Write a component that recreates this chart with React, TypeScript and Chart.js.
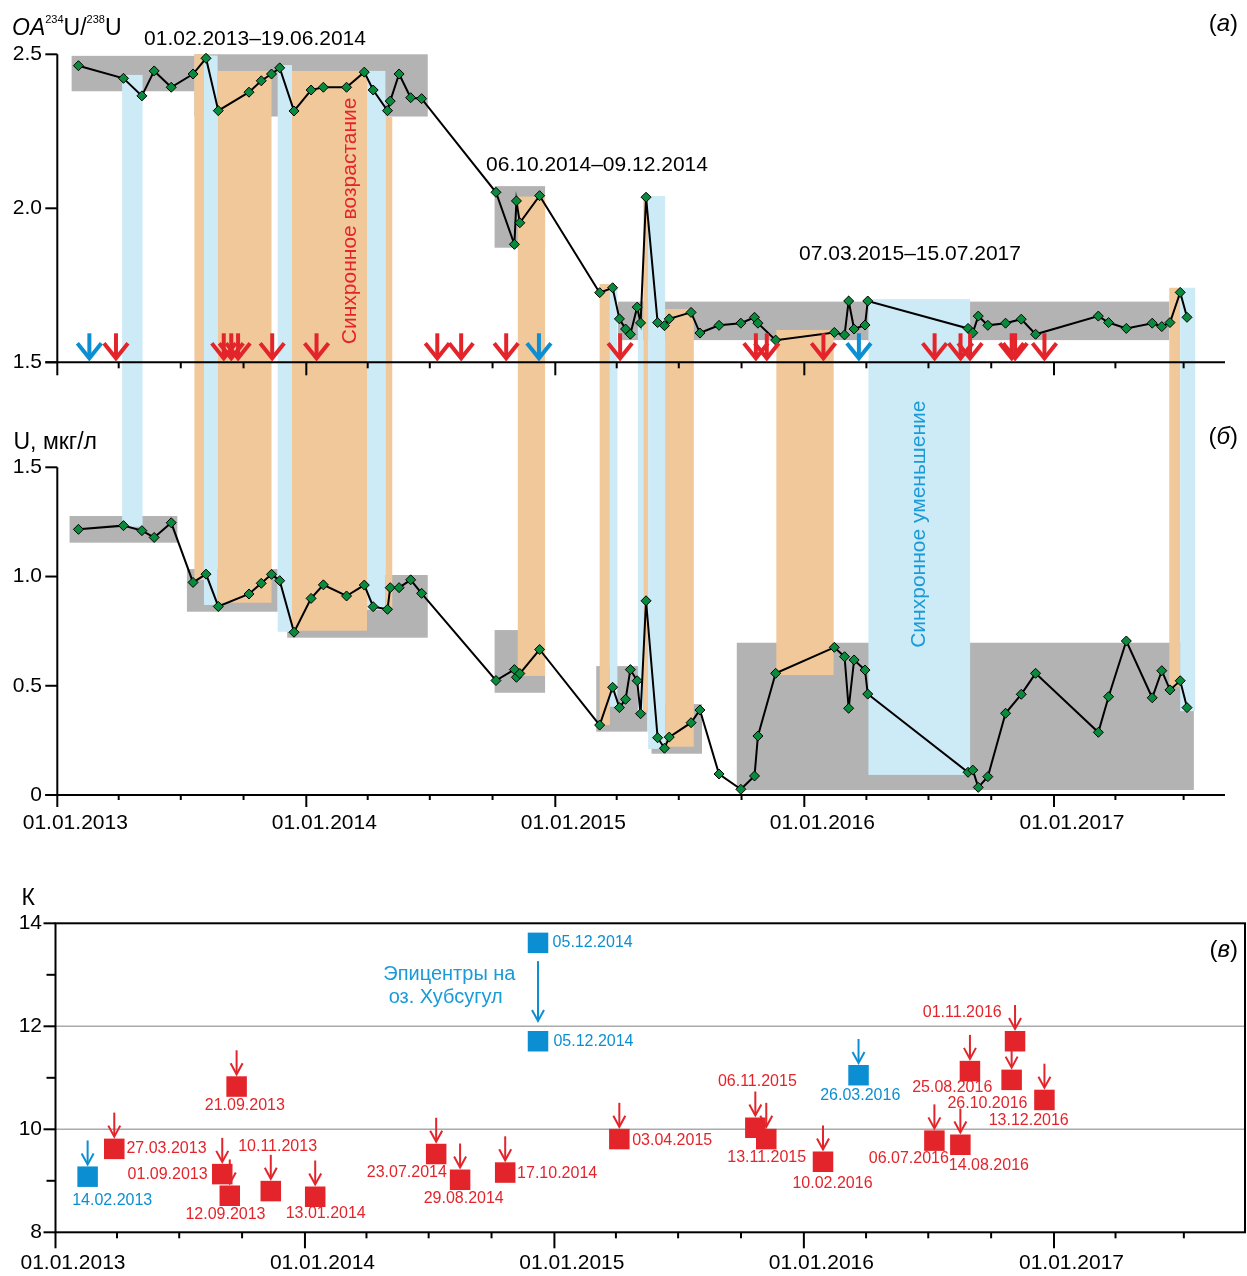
import React, { useEffect, useRef } from 'react';
import { Chart, registerables } from 'chart.js';

Chart.register(...registerables);

const FONT = '"Liberation Sans", Arial, Helvetica, sans-serif';

// ---------------- data ----------------
const sampleDates = [
  '01.02.2013', '08.04.2013', '05.05.2013', '23.05.2013', '17.06.2013', '19.07.2013', '07.08.2013', '25.08.2013',
  '09.10.2013', '27.10.2013', '11.11.2013', '23.11.2013', '14.12.2013',
  '08.01.2014', '26.01.2014', '01.03.2014', '27.03.2014', '09.04.2014', '30.04.2014', '04.05.2014', '17.05.2014',
  '03.06.2014', '19.06.2014',
  '06.10.2014', '02.11.2014', '05.11.2014', '10.11.2014', '09.12.2014',
  '07.03.2015', '26.03.2015', '05.04.2015', '14.04.2015', '21.04.2015', '01.05.2015', '06.05.2015', '14.05.2015',
  '31.05.2015', '10.06.2015', '17.06.2015', '19.07.2015', '01.08.2015', '29.08.2015', '30.09.2015', '20.10.2015',
  '25.10.2015', '20.11.2015',
  '14.02.2016', '29.02.2016', '06.03.2016', '14.03.2016', '30.03.2016', '03.04.2016', '28.08.2016', '04.09.2016',
  '12.09.2016', '26.09.2016', '22.10.2016', '14.11.2016', '05.12.2016',
  '07.03.2017', '22.03.2017', '17.04.2017', '25.05.2017', '08.06.2017', '20.06.2017', '05.07.2017', '15.07.2017',
];

const ratioA = [
  2.463, 2.422, 2.365, 2.446, 2.393, 2.436, 2.487, 2.317, 2.377, 2.414, 2.436, 2.456, 2.316,
  2.384, 2.393, 2.393, 2.442, 2.384, 2.317, 2.348, 2.436, 2.359, 2.356,
  2.052, 1.883, 2.024, 1.953, 2.041,
  1.726, 1.742, 1.641, 1.608, 1.591, 1.679, 1.628, 2.036, 1.629, 1.619, 1.641, 1.662, 1.595, 1.620, 1.627,
  1.646, 1.627, 1.572,
  1.597, 1.589, 1.699, 1.608, 1.621, 1.699, 1.610, 1.596, 1.650, 1.620, 1.627, 1.640, 1.591,
  1.650, 1.629, 1.610, 1.627, 1.616, 1.629, 1.727, 1.646,
];

const uB = [
  1.216, 1.233, 1.210, 1.179, 1.246, 0.973, 1.011, 0.863, 0.920, 0.969, 1.010, 0.981, 0.745,
  0.900, 0.962, 0.911, 0.961, 0.862, 0.850, 0.949, 0.949, 0.985, 0.923,
  0.524, 0.574, 0.539, 0.556, 0.666,
  0.320, 0.493, 0.400, 0.438, 0.574, 0.523, 0.372, 0.889, 0.262, 0.214, 0.265, 0.331, 0.389, 0.096, 0.026,
  0.087, 0.270, 0.557,
  0.676, 0.633, 0.397, 0.618, 0.572, 0.462, 0.104, 0.114, 0.035, 0.084, 0.374, 0.461, 0.557,
  0.287, 0.450, 0.705, 0.445, 0.569, 0.481, 0.523, 0.400,
];

// synchronous bands: start, end, kind (o = growth, b = decrease), top value (panel a), bottom value (panel b)
const bandsAB: [string, string, string, number, number][] = [
  ['06.04.2013', '06.05.2013', 'b', 2.433, 1.228],
  ['21.07.2013', '04.08.2013', 'o', 2.5, 0.984],
  ['04.08.2013', '24.08.2013', 'b', 2.496, 0.870],
  ['24.08.2013', '11.11.2013', 'o', 2.446, 0.880],
  ['20.11.2013', '11.12.2013', 'b', 2.465, 0.747],
  ['11.12.2013', '31.03.2014', 'o', 2.446, 0.752],
  ['31.03.2014', '27.04.2014', 'b', 2.446, 0.847],
  ['27.04.2014', '07.05.2014', 'o', 2.297, 0.86],
  ['07.11.2014', '17.12.2014', 'o', 2.038, 0.545],
  ['07.03.2015', '22.03.2015', 'o', 1.754, 0.320],
  ['22.03.2015', '02.04.2015', 'b', 1.74, 0.404],
  ['02.05.2015', '10.05.2015', 'b', 1.64, 0.381],
  ['10.05.2015', '17.05.2015', 'o', 2.038, 0.381],
  ['17.05.2015', '11.06.2015', 'b', 2.040, 0.211],
  ['11.06.2015', '23.07.2015', 'o', 1.673, 0.221],
  ['21.11.2015', '13.02.2016', 'o', 1.605, 0.549],
  ['04.04.2016', '31.08.2016', 'b', 1.705, 0.092],
  ['19.06.2017', '05.07.2017', 'o', 1.742, 0.496],
  ['05.07.2017', '27.07.2017', 'b', 1.742, 0.384],
];

// variability ranges: start, end, low, high
const grayA: [string, string, number, number][] = [
  ['22.01.2013', '21.07.2013', 2.38, 2.495],
  ['21.07.2013', '28.06.2014', 2.298, 2.5],
  ['04.10.2014', '17.12.2014', 1.872, 2.072],
  ['03.04.2015', '19.06.2017', 1.572, 1.697],
];
const grayB: [string, string, number, number][] = [
  ['19.01.2013', '26.06.2013', 1.155, 1.277],
  ['10.07.2013', '20.11.2013', 0.839, 1.034],
  ['04.12.2013', '28.06.2014', 0.720, 1.007],
  ['04.10.2014', '17.12.2014', 0.468, 0.755],
  ['02.03.2015', '16.05.2015', 0.290, 0.590],
  ['22.05.2015', '04.08.2015', 0.189, 0.416],
  ['24.09.2015', '25.07.2017', 0.023, 0.697],
];

// earthquakes (panel в)
const eventLabels = [
  '14.02.2013', '27.03.2013', '01.09.2013', '12.09.2013', '21.09.2013', '10.11.2013', '13.01.2014', '23.07.2014',
  '29.08.2014', '17.10.2014', '05.12.2014', '05.12.2014', '03.04.2015', '06.11.2015', '13.11.2015', '10.02.2016',
  '26.03.2016', '06.07.2016', '14.08.2016', '25.08.2016', '26.10.2016', '01.11.2016', '13.12.2016',
];
// horizontal positions
const eventPlotDates = [
  '17.02.2013', '28.03.2013', '02.09.2013', '13.09.2013', '23.09.2013', '12.11.2013', '16.01.2014', '12.07.2014',
  '16.08.2014', '21.10.2014', '08.12.2014', '08.12.2014', '06.04.2015', '22.10.2015', '07.11.2015', '29.01.2016',
  '21.03.2016', '10.07.2016', '17.08.2016', '31.08.2016', '31.10.2016', '05.11.2016', '18.12.2016',
];
const eventK = [
  9.08, 9.62, 9.13, 8.71, 10.83, 8.80, 8.69, 9.52, 9.02, 9.16, 13.62, 11.71, 9.81, 10.03, 9.81, 9.37,
  11.05, 9.78, 9.70, 11.13, 10.96, 11.71, 10.57,
];
const eventKind = [
  'b', 'r', 'r', 'r', 'r', 'r', 'r', 'r', 'r', 'r', 'b', 'b', 'r', 'r', 'r', 'r',
  'b', 'r', 'r', 'r', 'r', 'r', 'r',
];

const tickDates = [
  '01.01.2013', '01.04.2013', '01.07.2013', '01.10.2013',
  '01.01.2014', '01.04.2014', '01.07.2014', '01.10.2014',
  '01.01.2015', '01.04.2015', '01.07.2015', '01.10.2015',
  '01.01.2016', '01.04.2016', '01.07.2016', '01.10.2016',
  '01.01.2017', '01.04.2017', '10.07.2017',
];
const yTicksA = [1.5, 2.0, 2.5];
const yTicksB = [0, 0.5, 1.0, 1.5];
const yTicksC = [8, 9, 10, 11, 12, 13, 14];
const gridC = [10, 12];
const rangeTitles = ['01.02.2013–19.06.2014', '06.10.2014–09.12.2014', '07.03.2015–15.07.2017'];

// ---------------- layout / style ----------------
const W = 1247;
const BASE = Date.UTC(2013, 0, 1);
const toDay = (s: string) => {
  const [d, m, y] = s.split('.').map(Number);
  return Math.round((Date.UTC(y, m - 1, d) - BASE) / 86400000);
};
const tickDays = tickDates.map(toDay);
const isYearTick = (i: number) => tickDates[i].startsWith('01.01');

const AB_H = 860;
const AB_LEFT = 57.3, AB_RIGHT = 1225, AB_TOP = 54.3, AB_BOTTOM = 795;
const A_Y15 = 362.3, B_Y15 = 467.3;
const PXD_AB = (1054 - 57.3) / 1461;
const XMAX_AB = (AB_RIGHT - AB_LEFT) / PXD_AB;
const YA_MIN = 2.5 - (AB_BOTTOM - AB_TOP) / (A_Y15 - AB_TOP);
const YB_MAX = (AB_BOTTOM - AB_TOP) / ((AB_BOTTOM - B_Y15) / 1.5);

const C_OFF = 860, C_H = 416;
const C_LEFT = 55.5, C_RIGHT = 1245, C_TOP = 923.3 - C_OFF, C_BOTTOM = 1232.3 - C_OFF;
const PXD_C = (1054 - 55.5) / 1461;
const XMAX_C = (C_RIGHT - C_LEFT) / PXD_C;

const GRAY = '#b3b3b3';
const ORANGE = '#f0c89a';
const LBLUE = '#cdebf7';
const GREEN = '#0a8a3c';
const RED = '#e3242b';
const BLUE = '#0b8fd2';
const TXT_BLUE = '#1a9ad6';

const labelLayout: [number, number, string][] = [
  [24.6, 24, 'center'], [12.2, 0, 'left'], [-14.6, 0.7, 'right'], [-4.3, 18.6, 'center'],
  [8.2, 19.3, 'center'], [6.8, -44.3, 'center'], [10.5, 16.6, 'center'], [10.7, 18.7, 'right'],
  [3.6, 19.3, 'center'], [11.9, 1.3, 'left'], [14.6, 0, 'left'], [15.4, 0.7, 'left'],
  [12.8, 1.7, 'left'], [2, -46, 'center'], [0.4, 18.7, 'center'], [9.5, 21.6, 'center'],
  [1.7, 20.7, 'center'], [14.5, 18.3, 'right'], [-11.5, 20.7, 'left'], [-17.7, 16.7, 'center'],
  [-24.2, 23.3, 'center'], [-52.8, -28.3, 'center'], [-15.7, 21, 'center'],
];

function line(ctx: CanvasRenderingContext2D, x0: number, y0: number, x1: number, y1: number) {
  ctx.beginPath();
  ctx.moveTo(x0, y0);
  ctx.lineTo(x1, y1);
  ctx.stroke();
}

function text(ctx: CanvasRenderingContext2D, s: string, x: number, y: number, font: string, color: string,
  align: CanvasTextAlign = 'left', baseline: CanvasTextBaseline = 'middle') {
  ctx.font = font;
  ctx.fillStyle = color;
  ctx.textAlign = align;
  ctx.textBaseline = baseline;
  ctx.fillText(s, x, y);
}

function thickArrow(ctx: CanvasRenderingContext2D, x: number, tip: number, color: string) {
  ctx.save();
  ctx.strokeStyle = color;
  ctx.lineWidth = 4;
  ctx.lineCap = 'butt';
  ctx.lineJoin = 'miter';
  line(ctx, x, tip - 27, x, tip - 3);
  ctx.beginPath();
  ctx.moveTo(x - 12, tip - 17);
  ctx.lineTo(x, tip - 2);
  ctx.lineTo(x + 12, tip - 17);
  ctx.stroke();
  ctx.restore();
}

function thinArrow(ctx: CanvasRenderingContext2D, x: number, y0: number, y1: number, color: string) {
  ctx.save();
  ctx.strokeStyle = color;
  ctx.lineWidth = 2;
  ctx.lineJoin = 'miter';
  line(ctx, x, y0, x, y1 - 1);
  ctx.beginPath();
  ctx.moveTo(x - 6, y1 - 11);
  ctx.lineTo(x, y1);
  ctx.lineTo(x + 6, y1 - 11);
  ctx.stroke();
  ctx.restore();
}

function xAxisOptions(max: number, height: number, padding: number, labelOffset: number) {
  return {
    type: 'linear',
    position: 'bottom',
    min: 0,
    max,
    afterBuildTicks: (s: any) => {
      s.ticks = tickDays.map((v) => ({ value: v }));
    },
    afterFit: (s: any) => {
      s.height = height;
      s.paddingLeft = 0;
      s.paddingRight = 0;
    },
    grid: { display: false, drawTicks: false },
    border: { display: false },
    ticks: {
      autoSkip: false,
      maxRotation: 0,
      minRotation: 0,
      padding,
      labelOffset,
      color: '#000',
      font: { family: FONT, size: 21 },
      callback: (v: number) => {
        const i = tickDays.indexOf(v);
        return i >= 0 && isYearTick(i) ? tickDates[i] : '';
      },
    },
  };
}

function rotatedText(ctx: CanvasRenderingContext2D, s: string, cx: number, cy: number, color: string) {
  ctx.save();
  ctx.translate(cx, cy);
  ctx.rotate(-Math.PI / 2);
  text(ctx, s, 0, 0, `21px ${FONT}`, color, 'center', 'middle');
  ctx.restore();
}

function panelLabel(ctx: CanvasRenderingContext2D, letter: string, right: number, cy: number) {
  ctx.font = `24px ${FONT}`;
  const pw = ctx.measureText(')').width;
  ctx.font = `italic 24px ${FONT}`;
  const lw = ctx.measureText(letter).width;
  let x = right - pw - lw - pw;
  text(ctx, '(', x, cy, `24px ${FONT}`, '#000');
  x += pw;
  text(ctx, letter, x, cy, `italic 24px ${FONT}`, '#000');
  x += lw;
  text(ctx, ')', x, cy, `24px ${FONT}`, '#000');
}

const abPlugin = {
  id: 'abDecor',
  beforeDatasetsDraw(chart: any) {
    const { ctx } = chart;
    const { x, yA, yB } = chart.scales;
    ctx.save();
    ctx.fillStyle = GRAY;
    grayA.forEach(([s, e, lo, hi]) => {
      const x0 = x.getPixelForValue(toDay(s));
      const x1 = x.getPixelForValue(toDay(e));
      const y0 = yA.getPixelForValue(hi);
      const y1 = yA.getPixelForValue(lo);
      ctx.fillRect(x0, y0, x1 - x0, y1 - y0);
    });
    grayB.forEach(([s, e, lo, hi]) => {
      const x0 = x.getPixelForValue(toDay(s));
      const x1 = x.getPixelForValue(toDay(e));
      const y0 = yB.getPixelForValue(hi);
      const y1 = yB.getPixelForValue(lo);
      ctx.fillRect(x0, y0, x1 - x0, y1 - y0);
    });
    bandsAB.forEach(([s, e, kind, top, bottom]) => {
      const x0 = x.getPixelForValue(toDay(s));
      const x1 = x.getPixelForValue(toDay(e));
      const y0 = yA.getPixelForValue(top);
      const y1 = yB.getPixelForValue(bottom);
      ctx.fillStyle = kind === 'o' ? ORANGE : LBLUE;
      ctx.fillRect(x0, y0, x1 - x0, y1 - y0);
    });
    rotatedText(ctx, 'Синхронное возрастание', 350.3, 220.8, RED);
    rotatedText(ctx, 'Синхронное уменьшение', 919.2, 524.2, TXT_BLUE);
    ctx.restore();
  },
  afterDatasetsDraw(chart: any) {
    const { ctx } = chart;
    const { x, yA, yB } = chart.scales;
    const L = chart.chartArea.left;
    const R = chart.chartArea.right;
    ctx.save();
    ctx.strokeStyle = '#000';
    ctx.lineWidth = 2;
    ctx.lineCap = 'butt';
    const f21 = `21px ${FONT}`;

    // panel a axes
    const a15 = yA.getPixelForValue(1.5);
    const a25 = yA.getPixelForValue(2.5);
    line(ctx, L, a25, L, a15);
    line(ctx, L - 12, a15, R, a15);
    yTicksA.forEach((v) => {
      const py = yA.getPixelForValue(v);
      line(ctx, L - 12, py, L, py);
      text(ctx, v.toFixed(1), 42, py, f21, '#000', 'right');
    });
    tickDays.forEach((d, i) => {
      const px = x.getPixelForValue(d);
      line(ctx, px, a15, px, a15 + (isYearTick(i) ? 13 : 6));
    });

    // panel b axes
    const b0 = yB.getPixelForValue(0);
    const b15 = yB.getPixelForValue(1.5);
    line(ctx, L, b15, L, b0);
    line(ctx, L - 12, b0, R, b0);
    yTicksB.forEach((v) => {
      const py = yB.getPixelForValue(v);
      line(ctx, L - 12, py, L, py);
      text(ctx, v === 0 ? '0' : v.toFixed(1), 42, py, f21, '#000', 'right');
    });
    tickDays.forEach((d, i) => {
      const px = x.getPixelForValue(d);
      line(ctx, px, b0, px, b0 + (isYearTick(i) ? 12 : 5));
    });

    // earthquake arrows in panel a
    eventPlotDates.forEach((s, i) => {
      if (i > 0 && eventLabels[i] === eventLabels[i - 1]) return;
      const px = x.getPixelForValue(toDay(s));
      thickArrow(ctx, px, a15 - 2, eventKind[i] === 'b' ? BLUE : RED);
    });

    // axis titles
    let cx = 12;
    const base = 35;
    const pieces: [string, string, number][] = [
      ['OA', `italic 23px ${FONT}`, 0],
      ['234', `11px ${FONT}`, -12],
      ['U/', `23px ${FONT}`, 0],
      ['238', `11px ${FONT}`, -12],
      ['U', `23px ${FONT}`, 0],
    ];
    pieces.forEach(([s, font, dy]) => {
      text(ctx, s, cx, base + dy, font, '#000', 'left', 'alphabetic');
      ctx.font = font;
      cx += ctx.measureText(s).width;
    });
    text(ctx, 'U, мкг/л', 13.5, 448.5, `23px ${FONT}`, '#000', 'left', 'alphabetic');

    text(ctx, rangeTitles[0], 255, 39, f21, '#000', 'center');
    text(ctx, rangeTitles[1], 597, 165.5, f21, '#000', 'center');
    text(ctx, rangeTitles[2], 910, 254, f21, '#000', 'center');

    panelLabel(ctx, 'а', 1238, 24);
    panelLabel(ctx, 'б', 1238, 437.5);
    ctx.restore();
  },
};

const cPlugin = {
  id: 'cDecor',
  beforeDatasetsDraw(chart: any) {
    const { ctx } = chart;
    const { y } = chart.scales;
    const { left, right } = chart.chartArea;
    ctx.save();
    ctx.strokeStyle = '#aaaaaa';
    ctx.lineWidth = 1.5;
    gridC.forEach((v) => {
      const py = y.getPixelForValue(v);
      line(ctx, left, py, right, py);
    });
    ctx.restore();
  },
  afterDatasetsDraw(chart: any) {
    const { ctx } = chart;
    const { x, y } = chart.scales;
    const { left, right, top, bottom } = chart.chartArea;
    const f21 = `21px ${FONT}`;
    ctx.save();
    ctx.strokeStyle = '#000';
    ctx.lineWidth = 2;
    ctx.strokeRect(left, top, right - left, bottom - top);
    yTicksC.forEach((v) => {
      const py = y.getPixelForValue(v);
      const major = v % 2 === 0;
      line(ctx, left - (major ? 12 : 9), py, left, py);
      if (major) text(ctx, String(v), 42, py, f21, '#000', 'right');
    });
    tickDays.forEach((d, i) => {
      const px = x.getPixelForValue(d);
      line(ctx, px, bottom, px, bottom + (isYearTick(i) ? 16 : 6));
    });

    const half = 10.25;
    eventPlotDates.forEach((s, i) => {
      const px = x.getPixelForValue(toDay(s));
      const py = y.getPixelForValue(eventK[i]);
      const color = eventKind[i] === 'b' ? BLUE : RED;
      const sqTop = py - half;
      if (i > 0 && eventLabels[i] === eventLabels[i - 1]) {
        const prevY = y.getPixelForValue(eventK[i - 1]);
        thinArrow(ctx, px, prevY + half + 8, sqTop - 10, color);
      } else if (!(i + 1 < eventLabels.length && eventLabels[i + 1] === eventLabels[i])) {
        const len = eventLabels[i] === '26.10.2016' ? 17 : 24;
        thinArrow(ctx, px, sqTop - 2 - len, sqTop - 2, color);
      }
      const [dx, dy, align] = labelLayout[i];
      text(ctx, eventLabels[i], px + dx, py + dy, `16px ${FONT}`, color, align as CanvasTextAlign);
    });

    text(ctx, 'Эпицентры на', 449.4, 974.3 - C_OFF, `20px ${FONT}`, TXT_BLUE, 'center');
    text(ctx, 'оз. Хубсугул', 445.7, 997.3 - C_OFF, `20px ${FONT}`, TXT_BLUE, 'center');
    text(ctx, 'К', 21.5, 905 - C_OFF, `23px ${FONT}`, '#000', 'left', 'alphabetic');
    panelLabel(ctx, 'в', 1238, 950 - C_OFF);
    ctx.restore();
  },
};

export default function App() {
  const abRef = useRef<HTMLCanvasElement>(null);
  const cRef = useRef<HTMLCanvasElement>(null);

  useEffect(() => {
    const days = sampleDates.map(toDay);
    const ab = new Chart(abRef.current as HTMLCanvasElement, {
      type: 'line',
      data: {
        datasets: [
          {
            data: days.map((d, i) => ({ x: d, y: ratioA[i] })),
            yAxisID: 'yA',
            borderColor: '#000',
            borderWidth: 2,
            pointStyle: 'rectRot',
            pointRadius: 5,
            pointBackgroundColor: GREEN,
            pointBorderColor: '#000',
            pointBorderWidth: 1,
            tension: 0,
            clip: false,
          } as any,
          {
            data: days.map((d, i) => ({ x: d, y: uB[i] })),
            yAxisID: 'yB',
            borderColor: '#000',
            borderWidth: 2,
            pointStyle: 'rectRot',
            pointRadius: 5,
            pointBackgroundColor: GREEN,
            pointBorderColor: '#000',
            pointBorderWidth: 1,
            tension: 0,
            clip: false,
          } as any,
        ],
      },
      options: {
        animation: false,
        responsive: false,
        maintainAspectRatio: false,
        events: [],
        layout: { autoPadding: false, padding: { left: AB_LEFT, right: W - AB_RIGHT, top: AB_TOP, bottom: 8 } },
        plugins: { legend: { display: false }, tooltip: { enabled: false } },
        scales: {
          x: xAxisOptions(XMAX_AB, 57, 16, 18) as any,
          yA: { type: 'linear', display: false, min: YA_MIN, max: 2.5 },
          yB: { type: 'linear', display: false, min: 0, max: YB_MAX },
          y: { type: 'linear', display: false },
        },
      } as any,
      plugins: [abPlugin as any],
    });

    const c = new Chart(cRef.current as HTMLCanvasElement, {
      type: 'scatter',
      data: {
        datasets: [
          {
            data: eventPlotDates.map((s, i) => ({ x: toDay(s), y: eventK[i] })),
            pointStyle: 'rect',
            pointRadius: 14.5,
            pointBackgroundColor: eventKind.map((k) => (k === 'b' ? BLUE : RED)),
            pointBorderWidth: 0,
            showLine: false,
            clip: false,
          } as any,
        ],
      },
      options: {
        animation: false,
        responsive: false,
        maintainAspectRatio: false,
        events: [],
        layout: { autoPadding: false, padding: { left: C_LEFT, right: W - C_RIGHT, top: C_TOP, bottom: 0 } },
        plugins: { legend: { display: false }, tooltip: { enabled: false } },
        scales: {
          x: xAxisOptions(XMAX_C, C_H - C_BOTTOM, 18.4, 17.5) as any,
          y: { type: 'linear', display: false, min: 8, max: 14 },
        },
      } as any,
      plugins: [cPlugin as any],
    });

    return () => {
      ab.destroy();
      c.destroy();
    };
  }, []);

  return (
    <div style={{ position: 'fixed', left: 0, top: 0, width: W, height: 1276, overflow: 'hidden', background: '#fff' }}>
      <canvas ref={abRef} width={W} height={AB_H} style={{ position: 'absolute', left: 0, top: 0 }} />
      <canvas ref={cRef} width={W} height={C_H} style={{ position: 'absolute', left: 0, top: C_OFF }} />
    </div>
  );
}
